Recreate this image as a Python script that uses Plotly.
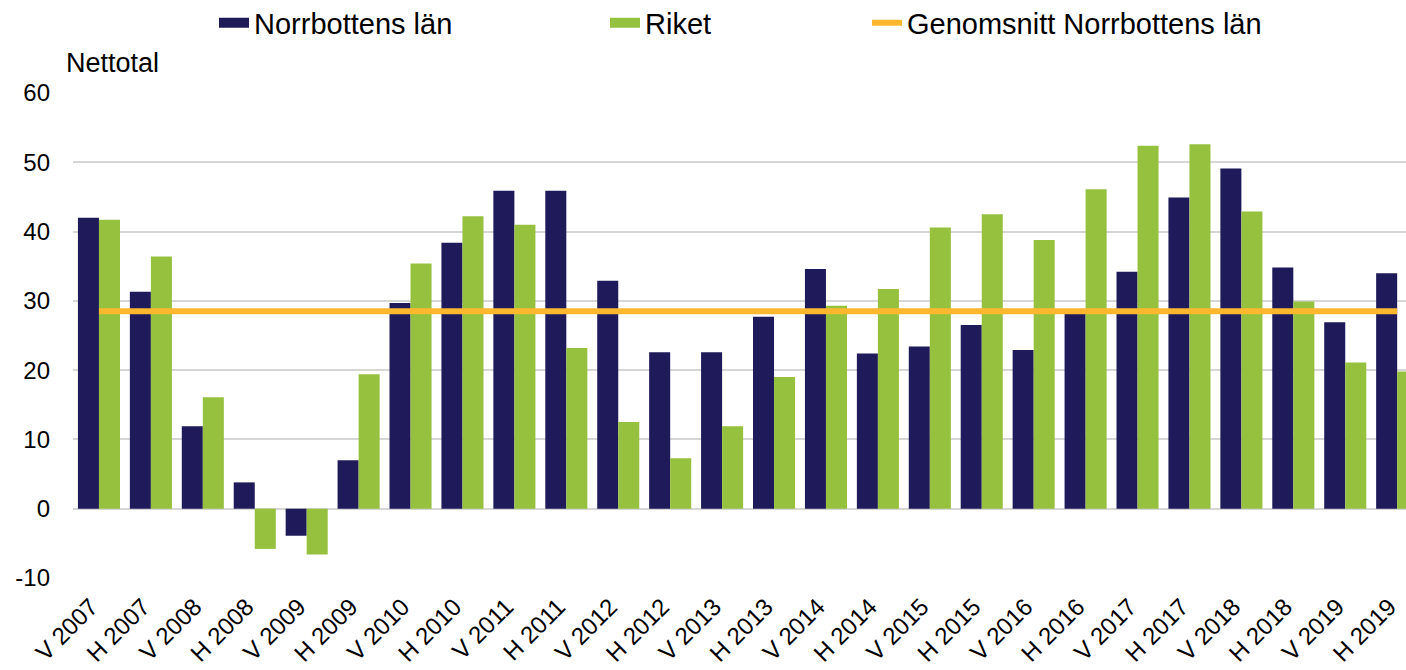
import plotly.graph_objects as go

periods = ["V 2007", "H 2007", "V 2008", "H 2008", "V 2009", "H 2009", "V 2010", "H 2010",
           "V 2011", "H 2011", "V 2012", "H 2012", "V 2013", "H 2013", "V 2014", "H 2014",
           "V 2015", "H 2015", "V 2016", "H 2016", "V 2017", "H 2017", "V 2018", "H 2018",
           "V 2019", "H 2019"]
norrbotten = [42.0, 31.3, 11.9, 3.8, -3.9, 7.0, 29.7, 38.4, 45.9, 45.9, 32.9, 22.6, 22.6,
              27.7, 34.6, 22.4, 23.4, 26.5, 22.9, 28.3, 34.2, 44.9, 49.1, 34.8, 26.9, 34.0]
riket = [41.7, 36.4, 16.1, -5.8, -6.6, 19.4, 35.4, 42.2, 41.0, 23.2, 12.5, 7.3, 11.9,
         19.0, 29.3, 31.7, 40.6, 42.5, 38.8, 46.1, 52.4, 52.6, 42.9, 29.9, 21.1, 19.8]
snitt_norrbotten = 28.5
y_ticks = [-10, 0, 10, 20, 30, 40, 50, 60]
y_ticklabels = ["-10", "0", "10", "20", "30", "40", "50", "60"]

NAVY = "#1F1B5A"
GREEN = "#96C13E"
ORANGE = "#FBB82F"
FONT = "Liberation Sans, Arial, sans-serif"

fig = go.Figure()
fig.add_trace(go.Bar(x=periods, y=norrbotten, name="Norrbottens län",
                     marker=dict(color=NAVY, line=dict(width=0)), showlegend=False))
fig.add_trace(go.Bar(x=periods, y=riket, name="Riket",
                     marker=dict(color=GREEN, line=dict(width=0)), showlegend=False))
fig.add_trace(go.Scatter(x=periods, y=[snitt_norrbotten] * len(periods), mode="lines",
                         name="Genomsnitt Norrbottens län",
                         line=dict(color=ORANGE, width=6), showlegend=False))

# legend entries, one legend per entry to get the spacing
fig.add_trace(go.Scatter(x=[None], y=[None], mode="lines", name="Norrbottens län",
                         line=dict(color=NAVY, width=15), legend="legend"))
fig.add_trace(go.Scatter(x=[None], y=[None], mode="lines", name="Riket",
                         line=dict(color=GREEN, width=15), legend="legend2"))
fig.add_trace(go.Scatter(x=[None], y=[None], mode="lines", name="Genomsnitt Norrbottens län",
                         line=dict(color=ORANGE, width=6), legend="legend3"))

W, H = 1406, 670
leg = dict(orientation="h", xref="container", yref="container", xanchor="left",
           yanchor="middle", y=1 - 23 / H, font=dict(size=29, color="#000", family=FONT),
           bgcolor="rgba(0,0,0,0)", itemwidth=30)

fig.update_layout(
    width=W, height=H,
    margin=dict(l=73, r=0, t=93, b=92),
    plot_bgcolor="white", paper_bgcolor="white",
    font=dict(family=FONT, color="#000"),
    barmode="group", bargap=0.19, bargroupgap=0,
    legend=dict(leg, x=214 / W),
    legend2=dict(leg, x=605 / W),
    legend3=dict(leg, x=867 / W),
    annotations=[dict(text="Nettotal", xref="paper", yref="paper", x=-0.0068, y=(578 - 63) / 485,
                      xanchor="left", yanchor="middle", showarrow=False,
                      font=dict(size=27, color="#000", family=FONT))],
)
fig.update_xaxes(range=[-0.5, 25.17], tickangle=-45, tickfont=dict(size=24, family=FONT),
                 showgrid=False, showline=False, ticks="", automargin=False,
                 ticklabelshift=-8, ticklabelstandoff=9)
fig.update_yaxes(range=[-10, 60], tickvals=y_ticks, ticktext=y_ticklabels,
                 tickfont=dict(size=24, family=FONT),
                 showgrid=True, gridcolor="#d6d6d6", gridwidth=2,
                 zeroline=True, zerolinecolor="#d6d6d6", zerolinewidth=2,
                 showline=False, ticks="", ticklabelstandoff=22, automargin=False)

fig.write_html("out.html", config={"displayModeBar": False},
               post_script="document.body.style.margin='0';document.body.style.overflow='hidden';")
